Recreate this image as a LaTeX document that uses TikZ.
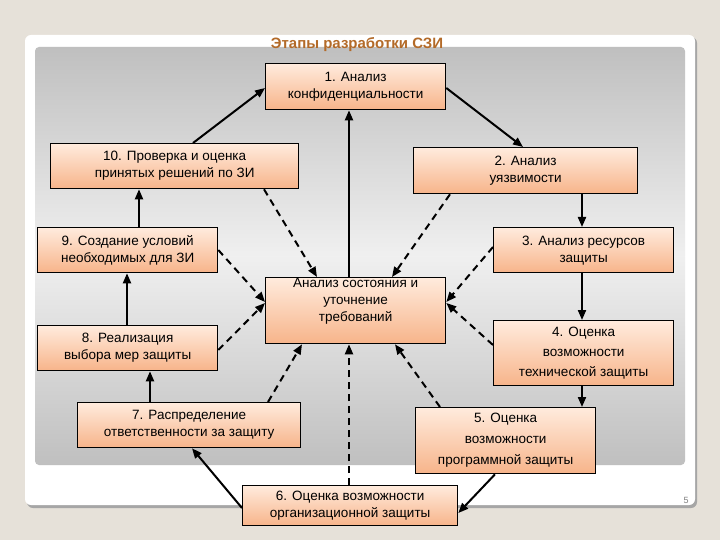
\documentclass[tikz,border=0pt]{standalone}
\usepackage{fontspec}
\setmainfont{Liberation Sans}
\usetikzlibrary{arrows.meta}
\definecolor{bgout}{HTML}{E6E1D9}
\definecolor{ttl}{HTML}{B36A28}
\definecolor{boxtop}{HTML}{FFEBDD}
\definecolor{boxbot}{HTML}{F7B48A}
\tikzset{
  stage/.style={draw=black,line width=1.3pt,top color=boxtop,bottom color=boxbot,
    align=center,font=\fontsize{13.5}{17}\selectfont,inner sep=0pt,anchor=north west},
  sol/.style={line width=2pt,-{Triangle[length=10pt,width=8pt]}},
  dsh/.style={line width=2pt,dash pattern=on 7pt off 5pt,-{Triangle[length=10pt,width=8pt]}}
}
\begin{document}
\begin{tikzpicture}[x=1pt,y=-1pt]
\useasboundingbox (0,0) rectangle (720,540);
\fill[bgout] (0,0) rectangle (720,540);
\fill[gray!70,rounded corners=6pt] (27,37) rectangle (697,508);
\fill[white,rounded corners=6pt] (25,35) rectangle (695,505);
\shade[top color=gray!50,bottom color=gray!50,middle color=gray!12,rounded corners=4pt] (35,47) rectangle (685,465);
\node[font=\bfseries\fontsize{15}{17}\selectfont,text=ttl] (title) at (357,45) {Этапы разработки СЗИ};
\node[text=gray,font=\fontsize{9}{10}\selectfont] (pg) at (686,500) {5};
\node[stage,minimum width=180pt,minimum height=46pt] (b1) at (265,63) {1. Анализ\\конфиденциальности};
\node[stage,minimum width=224pt,minimum height=46pt] (b2) at (413,147) {2. Анализ\\уязвимости};
\node[stage,minimum width=248pt,minimum height=45pt] (b10) at (50,143) {10. Проверка и оценка\\принятых решений по ЗИ};
\node[stage,minimum width=180pt,minimum height=45pt] (b9) at (37,227) {9. Создание условий\\необходимых для ЗИ};
\node[stage,minimum width=180pt,minimum height=66pt,font=\fontsize{13.5}{17}\selectfont] (c) at (265,277) {Анализ состояния и\\уточнение\\требований\\[4pt]};
\node[stage,minimum width=180pt,minimum height=45pt] (b3) at (493,227) {3. Анализ ресурсов\\защиты};
\node[stage,minimum width=180pt,minimum height=45pt] (b8) at (37,325) {8. Реализация\\выбора мер защиты};
\node[stage,minimum width=180pt,minimum height=65pt,font=\fontsize{13.5}{20}\selectfont] (b4) at (493,320) {4. Оценка\\возможности\\технической защиты};
\node[stage,minimum width=223pt,minimum height=45pt] (b7) at (77,402) {7. Распределение\\ответственности за защиту};
\node[stage,minimum width=180pt,minimum height=66pt,font=\fontsize{13.5}{21}\selectfont] (b5) at (415,407) {5. Оценка\\возможности\\программной защиты};
\node[stage,minimum width=215pt,minimum height=40pt] (b6) at (242,485) {6. Оценка возможности\\организационной защиты};
% solid
\draw[sol] (b10.north -| 193,0) -- (b1.west |- 0,88);
\draw[sol] (b1.east |- 0,88) -- (b2.north -| 523,0);
\draw[sol] (b2.south -| 582,0) -- (b3.north -| 582,0);
\draw[sol] (b3.south -| 582,0) -- (b4.north -| 582,0);
\draw[sol] (b4.south -| 582,0) -- (b5.north -| 582,0);
\draw[sol] (b5.south -| 495,0) -- (b6.east |- 0,513);
\draw[sol] (b6.west |- 0,508) -- (b7.south -| 192,0);
\draw[sol] (b7.north -| 150,0) -- (b8.south -| 150,0);
\draw[sol] (b8.north -| 127,0) -- (b9.south -| 127,0);
\draw[sol] (b9.north -| 139,0) -- (b10.south -| 139,0);
\draw[sol] (c.north -| 349,0) -- (b1.south -| 349,0);
% dashed
\draw[dsh] (b10.south -| 264,0) -- (c.north -| 317,0);
\draw[dsh] (b2.south -| 450,0) -- (c.north -| 392,0);
\draw[dsh] (b9.east |- 0,250) -- (c.west |- 0,302);
\draw[dsh] (b3.west |- 0,247) -- (c.east |- 0,302);
\draw[dsh] (b8.east |- 0,350) -- (c.west |- 0,303);
\draw[dsh] (b4.west |- 0,345) -- (c.east |- 0,303);
\draw[dsh] (b7.north -| 268,0) -- (c.south -| 302,0);
\draw[dsh] (b5.north -| 440,0) -- (c.south -| 395,0);
\draw[dsh] (b6.north -| 349,0) -- (c.south -| 349,0);
\end{tikzpicture}
\end{document}
